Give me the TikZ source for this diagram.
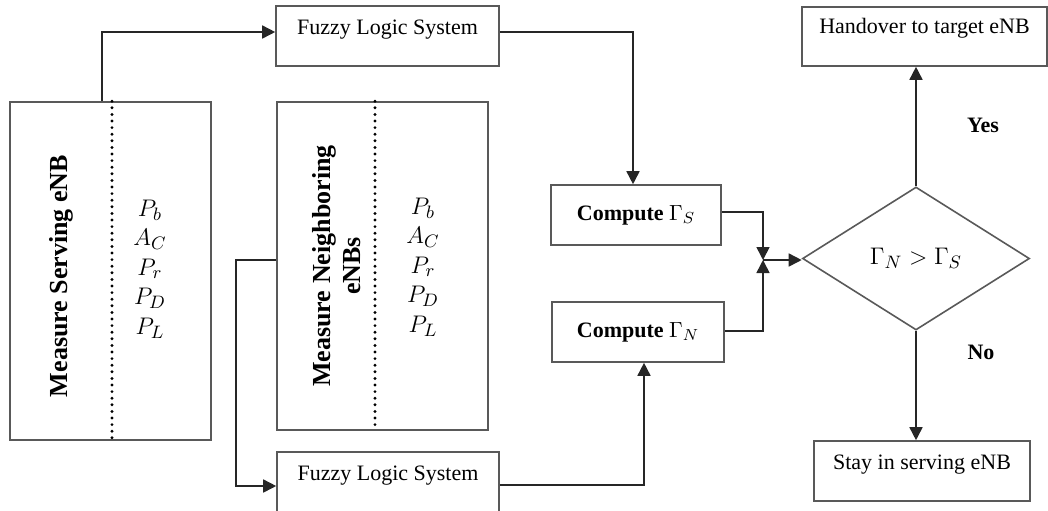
\documentclass[tikz,border=0pt]{standalone}
\usepackage{amsmath, amssymb}
\usepackage{fontspec}
\setmainfont{Liberation Serif}
\usepackage{tikz}
\usetikzlibrary{arrows.meta, positioning, shapes}

\begin{document}
\begin{tikzpicture}[x=0.5pt, y=-0.5pt, >={Triangle[length=6.5pt, width=6.5pt]},
  every node/.style={font=\fontsize{11}{13}\selectfont},
  box/.style={draw=black!65, line width=0.8pt, inner sep=0pt},
  topbox/.style={box, text height=14pt, text depth=16pt},
  vlabel/.style={rotate=90, align=center, font=\fontsize{13}{15}\selectfont\bfseries},
  params/.style={align=center, font=\fontsize{13}{14.75}\selectfont},
  sep/.style={line width=1.6pt, dash pattern=on 0pt off 3.3pt, line cap=round},
  link/.style={->, draw=black!85, line width=0.8pt}]
\useasboundingbox (0,0) rectangle (1048,510);

% measurement blocks
\node[box, minimum width=100.5pt, minimum height=169pt] (serv) at (110.5,271) {};
\node[box, minimum width=105.5pt, minimum height=164pt] (neigh) at (382.5,266) {};
\draw[sep] ([xshift=0.75pt]serv.north) -- ([xshift=0.75pt]serv.south);
\draw[sep] ([xshift=-3.75pt]neigh.north) -- ([xshift=-3.75pt]neigh.south);
\node[vlabel] (servlbl) at (61,276) {Measure Serving eNB};
\node[vlabel] (neighlbl) at (337,266) {Measure Neighboring\\eNBs};
\node[params] (servpar) at (150,269) {$P_b$\\$A_C$\\$P_r$\\$P_D$\\$P_L$};
\node[params] (neighpar) at (423,267) {$P_b$\\$A_C$\\$P_r$\\$P_D$\\$P_L$};

% fuzzy systems and metrics
\node[topbox, minimum width=111.5pt, minimum height=30pt] (fuzzyS) at (387.5,36) {Fuzzy Logic System};
\node[topbox, minimum width=111pt, minimum height=30pt] (fuzzyN) at (388,482) {Fuzzy Logic System};
\node[box, minimum width=85pt, minimum height=30pt] (compS) at (636,215) {\textbf{Compute} $\Gamma_S$};
\node[box, minimum width=86pt, minimum height=30pt] (compN) at (638,332) {\textbf{Compute} $\Gamma_N$};

% decision
\node[box, diamond, minimum width=113.5pt, minimum height=71.5pt, font=\fontsize{12.5}{14}\selectfont] (dec) at (916,258.5) {$\Gamma_N > \Gamma_S$};
\node[topbox, text height=13pt, text depth=16.5pt, minimum width=122.5pt, minimum height=29.5pt] (hand) at (924.5,36.5) {Handover to target eNB};
\node[topbox, minimum width=108pt, minimum height=30pt] (stay) at (922,471) {Stay in serving eNB};
\node[font=\fontsize{11}{13}\selectfont\bfseries] (yes) at (983,125) {Yes};
\node[font=\fontsize{11}{13}\selectfont\bfseries] (no) at (981,352) {No};
\coordinate (jn) at (763,260);

\draw[link] ([xshift=-4.25pt]serv.north) |- ([yshift=2pt]fuzzyS.west);
\draw[link] ([yshift=2pt]fuzzyS.east) -| ([xshift=-1.5pt]compS.north);
\draw[link] ([yshift=3pt]neigh.west) -- ++(-40,0) |- ([yshift=-2pt]fuzzyN.west);
\draw[link] ([yshift=-1.5pt]fuzzyN.east) -| ([xshift=3pt]compN.south);
\draw[link] ([yshift=1.5pt]compS.east) -| (jn);
\draw[link] ([yshift=0.5pt]compN.east) -| (jn);
\draw[link] (jn) -- (jn -| dec.west);
\draw[link] (dec.north) -- (hand.south -| dec.north);
\draw[link] (dec.south) -- (stay.north -| dec.south);
\end{tikzpicture}
\end{document}
